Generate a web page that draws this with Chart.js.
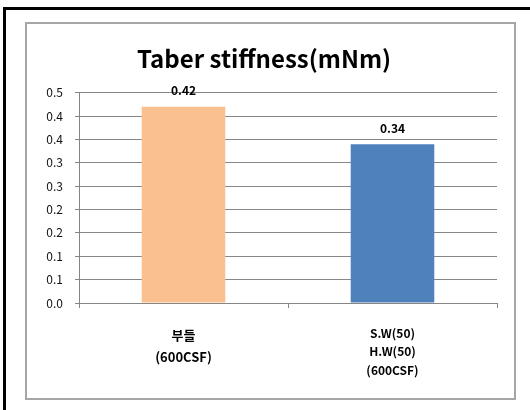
<!DOCTYPE html>
<html>
<head>
<meta charset="utf-8">
<script src="https://cdn.jsdelivr.net/npm/chart.js@4/dist/chart.umd.min.js"></script>
<style>
  html, body { margin: 0; padding: 0; background: #fff; width: 530px; height: 410px; overflow: hidden; }
  #outer { position: absolute; left: 3px; top: 7px; width: 600px; height: 500px; border-left: 3px solid #000; border-top: 3px solid #000; }
  #inner { position: absolute; left: 25px; top: 22px; width: 487px; height: 374px; border: 2px solid #a6a6a6; }
  #c { position: absolute; left: 0; top: 0; }
</style>
</head>
<body>
<div id="outer"></div>
<div id="inner"></div>
<canvas id="c" width="530" height="410"></canvas>
<script>
const titleText = 'Taber stiffness(mNm)';
const categories = [['부들', '(600CSF)'], ['S.W(50)', 'H.W(50)', '(600CSF)']];
const values = [0.42, 0.34];
const barColors = ['#FAC090', '#4F81BD'];
const yTickLabels = ['0.0', '0.1', '0.1', '0.2', '0.2', '0.3', '0.3', '0.4', '0.4', '0.5'];
const yMin = 0, yMax = 0.45, yStep = 0.05;

const FONT = "'Noto Sans CJK KR', 'Noto Sans', sans-serif";

const valueLabels = {
  id: 'valueLabels',
  afterDatasetsDraw(chart) {
    const ctx = chart.ctx;
    const meta = chart.getDatasetMeta(0);
    ctx.save();
    ctx.font = 'bold 12px ' + FONT;
    ctx.fillStyle = '#000';
    ctx.textAlign = 'center';
    ctx.textBaseline = 'bottom';
    meta.data.forEach((bar, i) => {
      ctx.fillText(values[i].toFixed(2), bar.x, bar.y - 10);
    });
    ctx.restore();
  }
};

new Chart(document.getElementById('c'), {
  type: 'bar',
  data: {
    labels: categories,
    datasets: [{
      data: values,
      backgroundColor: barColors,
      borderWidth: 0,
      barPercentage: 0.4,
      categoryPercentage: 1.0
    }]
  },
  options: {
    responsive: false,
    devicePixelRatio: 1,
    animation: false,
    layout: { padding: { left: 31, right: 33, top: 0, bottom: 0 } },
    plugins: {
      legend: { display: false },
      tooltip: { enabled: false },
      title: {
        display: true,
        text: titleText,
        color: '#000',
        font: { family: FONT, size: 24, weight: 'bold', lineHeight: 1.2 },
        padding: { top: 44, bottom: 20 }
      }
    },
    scales: {
      x: {
        offset: true,
        afterFit(scale) { scale.height = 107; },
        grid: {
          offset: true,
          drawOnChartArea: false,
          drawTicks: true,
          tickLength: 5,
          color: '#868686'
        },
        border: { display: true, color: '#868686', width: 1 },
        ticks: {
          color: '#000',
          padding: 16,
          maxRotation: 0,
          autoSkip: false,
          font: (ctx) => ctx.index === 0
            ? { family: FONT, size: 13, weight: 'bold', lineHeight: 1.69 }
            : { family: FONT, size: 12, weight: 'bold', lineHeight: 1.55 }
        }
      },
      y: {
        min: yMin,
        max: yMax,
        afterFit(scale) { scale.width = 48; },
        afterBuildTicks(scale) {
          const t = [];
          for (let i = 0; i < yTickLabels.length; i++) t.push({ value: +(yMin + i * yStep).toFixed(4) });
          scale.ticks = t;
        },
        grid: {
          color: '#868686',
          lineWidth: 1,
          drawTicks: true,
          tickLength: 4
        },
        border: { display: true, color: '#868686', width: 1 },
        ticks: {
          color: '#111',
          padding: 12,
          font: { family: FONT, size: 12 },
          callback: (v, i) => yTickLabels[i]
        }
      }
    }
  },
  plugins: [valueLabels]
});
</script>
</body>
</html>
